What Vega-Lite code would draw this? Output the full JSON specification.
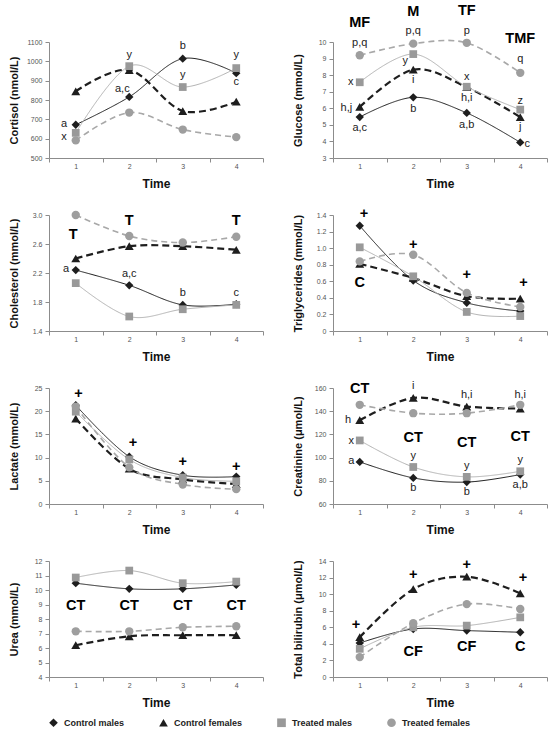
{
"$schema": "https://vega.github.io/schema/vega-lite/v6.json",
"padding": {"left": 7, "top": 3, "right": 4, "bottom": 4},
"background": "white",
"datasets": {
"vals": [
{"p":"Cortisol","g":"Control males","t":1,"v":672},{"p":"Cortisol","g":"Control males","t":2,"v":816},{"p":"Cortisol","g":"Control males","t":3,"v":1014},{"p":"Cortisol","g":"Control males","t":4,"v":939},
{"p":"Cortisol","g":"Control females","t":1,"v":845},{"p":"Cortisol","g":"Control females","t":2,"v":955},{"p":"Cortisol","g":"Control females","t":3,"v":743},{"p":"Cortisol","g":"Control females","t":4,"v":791},
{"p":"Cortisol","g":"Treated males","t":1,"v":630},{"p":"Cortisol","g":"Treated males","t":2,"v":975},{"p":"Cortisol","g":"Treated males","t":3,"v":867},{"p":"Cortisol","g":"Treated males","t":4,"v":965},
{"p":"Cortisol","g":"Treated females","t":1,"v":591},{"p":"Cortisol","g":"Treated females","t":2,"v":735},{"p":"Cortisol","g":"Treated females","t":3,"v":647},{"p":"Cortisol","g":"Treated females","t":4,"v":608},
{"p":"Glucose","g":"Control males","t":1,"v":5.47},{"p":"Glucose","g":"Control males","t":2,"v":6.66},{"p":"Glucose","g":"Control males","t":3,"v":5.72},{"p":"Glucose","g":"Control males","t":4,"v":3.94},
{"p":"Glucose","g":"Control females","t":1,"v":6.08},{"p":"Glucose","g":"Control females","t":2,"v":8.33},{"p":"Glucose","g":"Control females","t":3,"v":7.27},{"p":"Glucose","g":"Control females","t":4,"v":5.47},
{"p":"Glucose","g":"Treated males","t":1,"v":7.57},{"p":"Glucose","g":"Treated males","t":2,"v":9.27},{"p":"Glucose","g":"Treated males","t":3,"v":7.3},{"p":"Glucose","g":"Treated males","t":4,"v":5.92},
{"p":"Glucose","g":"Treated females","t":1,"v":9.2},{"p":"Glucose","g":"Treated females","t":2,"v":9.9},{"p":"Glucose","g":"Treated females","t":3,"v":9.95},{"p":"Glucose","g":"Treated females","t":4,"v":8.14},
{"p":"Cholesterol","g":"Control males","t":1,"v":2.24},{"p":"Cholesterol","g":"Control males","t":2,"v":2.03},{"p":"Cholesterol","g":"Control males","t":3,"v":1.76},{"p":"Cholesterol","g":"Control males","t":4,"v":1.77},
{"p":"Cholesterol","g":"Control females","t":1,"v":2.4},{"p":"Cholesterol","g":"Control females","t":2,"v":2.57},{"p":"Cholesterol","g":"Control females","t":3,"v":2.57},{"p":"Cholesterol","g":"Control females","t":4,"v":2.52},
{"p":"Cholesterol","g":"Treated males","t":1,"v":2.06},{"p":"Cholesterol","g":"Treated males","t":2,"v":1.6},{"p":"Cholesterol","g":"Treated males","t":3,"v":1.7},{"p":"Cholesterol","g":"Treated males","t":4,"v":1.76},
{"p":"Cholesterol","g":"Treated females","t":1,"v":3.0},{"p":"Cholesterol","g":"Treated females","t":2,"v":2.71},{"p":"Cholesterol","g":"Treated females","t":3,"v":2.62},{"p":"Cholesterol","g":"Treated females","t":4,"v":2.7},
{"p":"Triglycerides","g":"Control males","t":1,"v":1.27},{"p":"Triglycerides","g":"Control males","t":2,"v":0.61},{"p":"Triglycerides","g":"Control males","t":3,"v":0.34},{"p":"Triglycerides","g":"Control males","t":4,"v":0.24},
{"p":"Triglycerides","g":"Control females","t":1,"v":0.81},{"p":"Triglycerides","g":"Control females","t":2,"v":0.64},{"p":"Triglycerides","g":"Control females","t":3,"v":0.42},{"p":"Triglycerides","g":"Control females","t":4,"v":0.39},
{"p":"Triglycerides","g":"Treated males","t":1,"v":1.01},{"p":"Triglycerides","g":"Treated males","t":2,"v":0.66},{"p":"Triglycerides","g":"Treated males","t":3,"v":0.23},{"p":"Triglycerides","g":"Treated males","t":4,"v":0.18},
{"p":"Triglycerides","g":"Treated females","t":1,"v":0.84},{"p":"Triglycerides","g":"Treated females","t":2,"v":0.92},{"p":"Triglycerides","g":"Treated females","t":3,"v":0.46},{"p":"Triglycerides","g":"Treated females","t":4,"v":0.29},
{"p":"Lactate","g":"Control males","t":1,"v":21.3},{"p":"Lactate","g":"Control males","t":2,"v":10.2},{"p":"Lactate","g":"Control males","t":3,"v":6.2},{"p":"Lactate","g":"Control males","t":4,"v":5.9},
{"p":"Lactate","g":"Control females","t":1,"v":18.4},{"p":"Lactate","g":"Control females","t":2,"v":7.6},{"p":"Lactate","g":"Control females","t":3,"v":5.3},{"p":"Lactate","g":"Control females","t":4,"v":4.3},
{"p":"Lactate","g":"Treated males","t":1,"v":19.9},{"p":"Lactate","g":"Treated males","t":2,"v":9.6},{"p":"Lactate","g":"Treated males","t":3,"v":5.7},{"p":"Lactate","g":"Treated males","t":4,"v":4.9},
{"p":"Lactate","g":"Treated females","t":1,"v":21.0},{"p":"Lactate","g":"Treated females","t":2,"v":7.9},{"p":"Lactate","g":"Treated females","t":3,"v":4.2},{"p":"Lactate","g":"Treated females","t":4,"v":3.2},
{"p":"Creatinine","g":"Control males","t":1,"v":96.3},{"p":"Creatinine","g":"Control males","t":2,"v":82.5},{"p":"Creatinine","g":"Control males","t":3,"v":78.9},{"p":"Creatinine","g":"Control males","t":4,"v":85.4},
{"p":"Creatinine","g":"Control females","t":1,"v":132.2},{"p":"Creatinine","g":"Control females","t":2,"v":151.5},{"p":"Creatinine","g":"Control females","t":3,"v":144},{"p":"Creatinine","g":"Control females","t":4,"v":142.3},
{"p":"Creatinine","g":"Treated males","t":1,"v":114.8},{"p":"Creatinine","g":"Treated males","t":2,"v":91.9},{"p":"Creatinine","g":"Treated males","t":3,"v":83.4},{"p":"Creatinine","g":"Treated males","t":4,"v":88.2},
{"p":"Creatinine","g":"Treated females","t":1,"v":145.5},{"p":"Creatinine","g":"Treated females","t":2,"v":138.3},{"p":"Creatinine","g":"Treated females","t":3,"v":138.3},{"p":"Creatinine","g":"Treated females","t":4,"v":145.5},
{"p":"Urea","g":"Control males","t":1,"v":10.47},{"p":"Urea","g":"Control males","t":2,"v":10.08},{"p":"Urea","g":"Control males","t":3,"v":10.08},{"p":"Urea","g":"Control males","t":4,"v":10.35},
{"p":"Urea","g":"Control females","t":1,"v":6.19},{"p":"Urea","g":"Control females","t":2,"v":6.81},{"p":"Urea","g":"Control females","t":3,"v":6.88},{"p":"Urea","g":"Control females","t":4,"v":6.88},
{"p":"Urea","g":"Treated males","t":1,"v":10.86},{"p":"Urea","g":"Treated males","t":2,"v":11.34},{"p":"Urea","g":"Treated males","t":3,"v":10.47},{"p":"Urea","g":"Treated males","t":4,"v":10.58},
{"p":"Urea","g":"Treated females","t":1,"v":7.15},{"p":"Urea","g":"Treated females","t":2,"v":7.15},{"p":"Urea","g":"Treated females","t":3,"v":7.43},{"p":"Urea","g":"Treated females","t":4,"v":7.5},
{"p":"Bilirubin","g":"Control males","t":1,"v":4.1},{"p":"Bilirubin","g":"Control males","t":2,"v":5.8},{"p":"Bilirubin","g":"Control males","t":3,"v":5.6},{"p":"Bilirubin","g":"Control males","t":4,"v":5.4},
{"p":"Bilirubin","g":"Control females","t":1,"v":4.8},{"p":"Bilirubin","g":"Control females","t":2,"v":10.6},{"p":"Bilirubin","g":"Control females","t":3,"v":12.1},{"p":"Bilirubin","g":"Control females","t":4,"v":10.1},
{"p":"Bilirubin","g":"Treated males","t":1,"v":3.4},{"p":"Bilirubin","g":"Treated males","t":2,"v":6.0},{"p":"Bilirubin","g":"Treated males","t":3,"v":6.2},{"p":"Bilirubin","g":"Treated males","t":4,"v":7.2},
{"p":"Bilirubin","g":"Treated females","t":1,"v":2.4},{"p":"Bilirubin","g":"Treated females","t":2,"v":6.5},{"p":"Bilirubin","g":"Treated females","t":3,"v":8.8},{"p":"Bilirubin","g":"Treated females","t":4,"v":8.2}
],
"notes": [
{"p":"Cortisol","t":0.78,"v":676,"s":"a"},{"p":"Cortisol","t":0.78,"v":608,"s":"x"},{"p":"Cortisol","t":2,"v":1032,"s":"y"},{"p":"Cortisol","t":1.87,"v":855,"s":"a,c"},{"p":"Cortisol","t":3,"v":1078,"s":"b"},{"p":"Cortisol","t":3,"v":929,"s":"y"},{"p":"Cortisol","t":4,"v":1032,"s":"y"},{"p":"Cortisol","t":4,"v":892,"s":"c"},
{"p":"Glucose","t":1,"v":9.93,"s":"p,q"},{"p":"Glucose","t":0.83,"v":7.57,"s":"x"},{"p":"Glucose","t":0.75,"v":6.04,"s":"h,j"},{"p":"Glucose","t":1,"v":4.82,"s":"a,c"},{"p":"Glucose","t":2,"v":10.68,"s":"p,q"},{"p":"Glucose","t":1.85,"v":8.85,"s":"y"},{"p":"Glucose","t":2,"v":7.7,"s":"i"},{"p":"Glucose","t":2,"v":5.97,"s":"b"},{"p":"Glucose","t":3,"v":10.66,"s":"p"},{"p":"Glucose","t":3,"v":7.88,"s":"x"},{"p":"Glucose","t":3,"v":6.65,"s":"h,i"},{"p":"Glucose","t":3,"v":5.0,"s":"a,b"},{"p":"Glucose","t":4,"v":8.95,"s":"q"},{"p":"Glucose","t":4,"v":6.45,"s":"z"},{"p":"Glucose","t":4,"v":4.87,"s":"j"},{"p":"Glucose","t":4.13,"v":3.82,"s":"c"},
{"p":"Glucose","t":1,"v":11.17,"s":"MF"},{"p":"Glucose","t":2,"v":11.8,"s":"M"},{"p":"Glucose","t":3,"v":11.85,"s":"TF"},{"p":"Glucose","t":4,"v":10.16,"s":"TMF"},
{"p":"Cholesterol","t":0.95,"v":2.73,"s":"T"},{"p":"Cholesterol","t":2,"v":2.92,"s":"T"},{"p":"Cholesterol","t":4,"v":2.92,"s":"T"},{"p":"Cholesterol","t":0.82,"v":2.25,"s":"a"},{"p":"Cholesterol","t":2,"v":2.19,"s":"a,c"},{"p":"Cholesterol","t":3,"v":1.93,"s":"b"},{"p":"Cholesterol","t":4,"v":1.92,"s":"c"},
{"p":"Triglycerides","t":1.08,"v":1.41,"s":"+"},{"p":"Triglycerides","t":2,"v":1.04,"s":"+"},{"p":"Triglycerides","t":3,"v":0.68,"s":"+"},{"p":"Triglycerides","t":4.06,"v":0.58,"s":"+"},{"p":"Triglycerides","t":1,"v":0.58,"s":"C"},
{"p":"Lactate","t":1.05,"v":23.8,"s":"+"},{"p":"Lactate","t":2.07,"v":13.2,"s":"+"},{"p":"Lactate","t":3,"v":9.1,"s":"+"},{"p":"Lactate","t":4,"v":8.0,"s":"+"},
{"p":"Creatinine","t":1,"v":159,"s":"CT"},{"p":"Creatinine","t":2,"v":117,"s":"CT"},{"p":"Creatinine","t":3,"v":112.6,"s":"CT"},{"p":"Creatinine","t":4,"v":118,"s":"CT"},{"p":"Creatinine","t":0.78,"v":132,"s":"h"},{"p":"Creatinine","t":0.84,"v":114,"s":"x"},{"p":"Creatinine","t":0.84,"v":97,"s":"a"},{"p":"Creatinine","t":2,"v":162,"s":"i"},{"p":"Creatinine","t":2,"v":101,"s":"y"},{"p":"Creatinine","t":2,"v":74,"s":"b"},{"p":"Creatinine","t":3,"v":154.3,"s":"h,i"},{"p":"Creatinine","t":3,"v":92.5,"s":"y"},{"p":"Creatinine","t":3,"v":70,"s":"b"},{"p":"Creatinine","t":4,"v":154,"s":"h,i"},{"p":"Creatinine","t":4,"v":97.6,"s":"y"},{"p":"Creatinine","t":4,"v":76,"s":"a,b"},
{"p":"Urea","t":1,"v":8.87,"s":"CT"},{"p":"Urea","t":2,"v":8.87,"s":"CT"},{"p":"Urea","t":3,"v":8.87,"s":"CT"},{"p":"Urea","t":4,"v":8.87,"s":"CT"},
{"p":"Bilirubin","t":0.93,"v":6.3,"s":"+"},{"p":"Bilirubin","t":2,"v":12.3,"s":"+"},{"p":"Bilirubin","t":3,"v":13.5,"s":"+"},{"p":"Bilirubin","t":4.05,"v":11.9,"s":"+"},{"p":"Bilirubin","t":2,"v":3.0,"s":"CF"},{"p":"Bilirubin","t":3,"v":3.6,"s":"CF"},{"p":"Bilirubin","t":4,"v":3.6,"s":"C"}
]
},
"bounds": "flush",
"columns": 2,
"spacing": {"row": 57, "column": 70},
"resolve": {"legend": {"fill": "independent", "shape": "independent"}},
"concat": [
{"width": 214, "height": 116,
 "encoding": {
  "x": {"field":"t","type":"quantitative","title":"Time","scale":{"domain":[0.5,4.5],"nice":false,"zero":false},"axis":{"values":[0.5,1,1.5,2,2.5,3,3.5,4,4.5],"labelExpr":"datum.value % 1 ? '' : '' + datum.value","tickOpacity":{"condition":{"test":"datum.value % 1 == 0","value":0},"value":1}}},
  "y": {"field":"v","type":"quantitative","title":"Cortisol (nmol/L)","scale":{"domain":[500,1100],"nice":false,"zero":false},"axis":{"values":[500,600,700,800,900,1000,1100],"format":"d"}}
 },
 "layer": [
  {"data":{"name":"vals"},"transform":[{"filter":"datum.p=='Cortisol'"}],"mark":{"type":"line","interpolate":"cardinal"},
   "encoding":{"stroke":{"field":"g","type":"nominal","scale":{"domain":["Control males","Control females","Treated males","Treated females"],"range":["#1e1e1e","#1e1e1e","#b3b3b3","#a8a8a8"]},"legend":null},
    "strokeDash":{"field":"g","type":"nominal","scale":{"domain":["Control males","Control females","Treated males","Treated females"],"range":[[1,0],[7,4],[1,0],[6,4]]},"legend":null},
    "strokeWidth":{"condition":[{"test":"datum.g=='Control females'","value":2.2},{"test":"datum.g=='Treated females'","value":1.6}],"value":1}}},
  {"data":{"name":"vals"},"transform":[{"filter":"datum.p=='Cortisol'"}],"mark":{"type":"point","filled":true,"opacity":1},
   "encoding":{"fill":{"field":"g","type":"nominal","scale":{"domain":["Control males","Control females","Treated males","Treated females"],"range":["#1e1e1e","#1e1e1e","#999999","#9e9e9e"]},"legend":null},
    "shape":{"field":"g","type":"nominal","scale":{"domain":["Control males","Control females","Treated males","Treated females"],"range":["diamond","triangle-up","square","circle"]},"legend":null},
    "size":{"condition":[{"test":"datum.g=='Control males'","value":70},{"test":"datum.g=='Control females'","value":80},{"test":"datum.g=='Treated males'","value":60}],"value":70}}},
  {"data":{"name":"notes"},"transform":[{"filter":"datum.p=='Cortisol' && datum.s != upper(datum.s)"}],"mark":{"type":"text","font":"Liberation Sans","fontSize":11,"color":"#222","baseline":"middle"},"encoding":{"text":{"field":"s"}}},
  {"data":{"name":"notes"},"transform":[{"filter":"datum.p=='Cortisol' && datum.s == upper(datum.s)"}],"mark":{"type":"text","font":"Liberation Sans","fontSize":14.5,"fontWeight":"bold","color":"#000","baseline":"middle"},"encoding":{"text":{"field":"s"}}}
 ]},
{"width": 214, "height": 116,
 "encoding": {
  "x": {"field":"t","type":"quantitative","title":"Time","scale":{"domain":[0.5,4.5],"nice":false,"zero":false},"axis":{"values":[0.5,1,1.5,2,2.5,3,3.5,4,4.5],"labelExpr":"datum.value % 1 ? '' : '' + datum.value","tickOpacity":{"condition":{"test":"datum.value % 1 == 0","value":0},"value":1}}},
  "y": {"field":"v","type":"quantitative","title":"Glucose (mmol/L)","scale":{"domain":[3,10],"nice":false,"zero":false},"axis":{"values":[3,4,5,6,7,8,9,10]}}
 },
 "layer": [
  {"data":{"name":"vals"},"transform":[{"filter":"datum.p=='Glucose'"}],"mark":{"type":"line","interpolate":"cardinal"},
   "encoding":{"stroke":{"field":"g","type":"nominal","scale":{"domain":["Control males","Control females","Treated males","Treated females"],"range":["#1e1e1e","#1e1e1e","#b3b3b3","#a8a8a8"]},"legend":null},
    "strokeDash":{"field":"g","type":"nominal","scale":{"domain":["Control males","Control females","Treated males","Treated females"],"range":[[1,0],[7,4],[1,0],[6,4]]},"legend":null},
    "strokeWidth":{"condition":[{"test":"datum.g=='Control females'","value":2.2},{"test":"datum.g=='Treated females'","value":1.6}],"value":1}}},
  {"data":{"name":"vals"},"transform":[{"filter":"datum.p=='Glucose'"}],"mark":{"type":"point","filled":true,"opacity":1},
   "encoding":{"fill":{"field":"g","type":"nominal","scale":{"domain":["Control males","Control females","Treated males","Treated females"],"range":["#1e1e1e","#1e1e1e","#999999","#9e9e9e"]},"legend":null},
    "shape":{"field":"g","type":"nominal","scale":{"domain":["Control males","Control females","Treated males","Treated females"],"range":["diamond","triangle-up","square","circle"]},"legend":null},
    "size":{"condition":[{"test":"datum.g=='Control males'","value":70},{"test":"datum.g=='Control females'","value":80},{"test":"datum.g=='Treated males'","value":60}],"value":70}}},
  {"data":{"name":"notes"},"transform":[{"filter":"datum.p=='Glucose' && datum.s != upper(datum.s)"}],"mark":{"type":"text","font":"Liberation Sans","fontSize":11,"color":"#222","baseline":"middle"},"encoding":{"text":{"field":"s"}}},
  {"data":{"name":"notes"},"transform":[{"filter":"datum.p=='Glucose' && datum.s == upper(datum.s)"}],"mark":{"type":"text","font":"Liberation Sans","fontSize":14.5,"fontWeight":"bold","color":"#000","baseline":"middle"},"encoding":{"text":{"field":"s"}}}
 ]},
{"width": 214, "height": 116,
 "encoding": {
  "x": {"field":"t","type":"quantitative","title":"Time","scale":{"domain":[0.5,4.5],"nice":false,"zero":false},"axis":{"values":[0.5,1,1.5,2,2.5,3,3.5,4,4.5],"labelExpr":"datum.value % 1 ? '' : '' + datum.value","tickOpacity":{"condition":{"test":"datum.value % 1 == 0","value":0},"value":1}}},
  "y": {"field":"v","type":"quantitative","title":"Cholesterol (mmol/L)","scale":{"domain":[1.4,3.0],"nice":false,"zero":false},"axis":{"values":[1.4,1.8,2.2,2.6,3.0],"format":".1f"}}
 },
 "layer": [
  {"data":{"name":"vals"},"transform":[{"filter":"datum.p=='Cholesterol'"}],"mark":{"type":"line","interpolate":"cardinal"},
   "encoding":{"stroke":{"field":"g","type":"nominal","scale":{"domain":["Control males","Control females","Treated males","Treated females"],"range":["#1e1e1e","#1e1e1e","#b3b3b3","#a8a8a8"]},"legend":null},
    "strokeDash":{"field":"g","type":"nominal","scale":{"domain":["Control males","Control females","Treated males","Treated females"],"range":[[1,0],[7,4],[1,0],[6,4]]},"legend":null},
    "strokeWidth":{"condition":[{"test":"datum.g=='Control females'","value":2.2},{"test":"datum.g=='Treated females'","value":1.6}],"value":1}}},
  {"data":{"name":"vals"},"transform":[{"filter":"datum.p=='Cholesterol'"}],"mark":{"type":"point","filled":true,"opacity":1},
   "encoding":{"fill":{"field":"g","type":"nominal","scale":{"domain":["Control males","Control females","Treated males","Treated females"],"range":["#1e1e1e","#1e1e1e","#999999","#9e9e9e"]},"legend":null},
    "shape":{"field":"g","type":"nominal","scale":{"domain":["Control males","Control females","Treated males","Treated females"],"range":["diamond","triangle-up","square","circle"]},"legend":null},
    "size":{"condition":[{"test":"datum.g=='Control males'","value":70},{"test":"datum.g=='Control females'","value":80},{"test":"datum.g=='Treated males'","value":60}],"value":70}}},
  {"data":{"name":"notes"},"transform":[{"filter":"datum.p=='Cholesterol' && datum.s != upper(datum.s)"}],"mark":{"type":"text","font":"Liberation Sans","fontSize":11,"color":"#222","baseline":"middle"},"encoding":{"text":{"field":"s"}}},
  {"data":{"name":"notes"},"transform":[{"filter":"datum.p=='Cholesterol' && datum.s == upper(datum.s)"}],"mark":{"type":"text","font":"Liberation Sans","fontSize":14.5,"fontWeight":"bold","color":"#000","baseline":"middle"},"encoding":{"text":{"field":"s"}}}
 ]},
{"width": 214, "height": 116,
 "encoding": {
  "x": {"field":"t","type":"quantitative","title":"Time","scale":{"domain":[0.5,4.5],"nice":false,"zero":false},"axis":{"values":[0.5,1,1.5,2,2.5,3,3.5,4,4.5],"labelExpr":"datum.value % 1 ? '' : '' + datum.value","tickOpacity":{"condition":{"test":"datum.value % 1 == 0","value":0},"value":1}}},
  "y": {"field":"v","type":"quantitative","title":"Triglycerides (mmol/L)","scale":{"domain":[0,1.4],"nice":false,"zero":false},"axis":{"values":[0,0.2,0.4,0.6,0.8,1.0,1.2,1.4],"labelExpr":"datum.value == 0 ? '0' : format(datum.value, '.1f')"}}
 },
 "layer": [
  {"data":{"name":"vals"},"transform":[{"filter":"datum.p=='Triglycerides'"}],"mark":{"type":"line","interpolate":"cardinal"},
   "encoding":{"stroke":{"field":"g","type":"nominal","scale":{"domain":["Control males","Control females","Treated males","Treated females"],"range":["#1e1e1e","#1e1e1e","#b3b3b3","#a8a8a8"]},"legend":null},
    "strokeDash":{"field":"g","type":"nominal","scale":{"domain":["Control males","Control females","Treated males","Treated females"],"range":[[1,0],[7,4],[1,0],[6,4]]},"legend":null},
    "strokeWidth":{"condition":[{"test":"datum.g=='Control females'","value":2.2},{"test":"datum.g=='Treated females'","value":1.6}],"value":1}}},
  {"data":{"name":"vals"},"transform":[{"filter":"datum.p=='Triglycerides'"}],"mark":{"type":"point","filled":true,"opacity":1},
   "encoding":{"fill":{"field":"g","type":"nominal","scale":{"domain":["Control males","Control females","Treated males","Treated females"],"range":["#1e1e1e","#1e1e1e","#999999","#9e9e9e"]},"legend":null},
    "shape":{"field":"g","type":"nominal","scale":{"domain":["Control males","Control females","Treated males","Treated females"],"range":["diamond","triangle-up","square","circle"]},"legend":null},
    "size":{"condition":[{"test":"datum.g=='Control males'","value":70},{"test":"datum.g=='Control females'","value":80},{"test":"datum.g=='Treated males'","value":60}],"value":70}}},
  {"data":{"name":"notes"},"transform":[{"filter":"datum.p=='Triglycerides' && datum.s == upper(datum.s)"}],"mark":{"type":"text","font":"Liberation Sans","fontSize":14.5,"fontWeight":"bold","color":"#000","baseline":"middle"},"encoding":{"text":{"field":"s"}}}
 ]},
{"width": 214, "height": 116,
 "encoding": {
  "x": {"field":"t","type":"quantitative","title":"Time","scale":{"domain":[0.5,4.5],"nice":false,"zero":false},"axis":{"values":[0.5,1,1.5,2,2.5,3,3.5,4,4.5],"labelExpr":"datum.value % 1 ? '' : '' + datum.value","tickOpacity":{"condition":{"test":"datum.value % 1 == 0","value":0},"value":1}}},
  "y": {"field":"v","type":"quantitative","title":"Lactate (mmol/L)","scale":{"domain":[0,25],"nice":false,"zero":false},"axis":{"values":[0,5,10,15,20,25]}}
 },
 "layer": [
  {"data":{"name":"vals"},"transform":[{"filter":"datum.p=='Lactate'"}],"mark":{"type":"line","interpolate":"cardinal"},
   "encoding":{"stroke":{"field":"g","type":"nominal","scale":{"domain":["Control males","Control females","Treated males","Treated females"],"range":["#1e1e1e","#1e1e1e","#b3b3b3","#a8a8a8"]},"legend":null},
    "strokeDash":{"field":"g","type":"nominal","scale":{"domain":["Control males","Control females","Treated males","Treated females"],"range":[[1,0],[7,4],[1,0],[6,4]]},"legend":null},
    "strokeWidth":{"condition":[{"test":"datum.g=='Control females'","value":2.2},{"test":"datum.g=='Treated females'","value":1.6}],"value":1}}},
  {"data":{"name":"vals"},"transform":[{"filter":"datum.p=='Lactate'"}],"mark":{"type":"point","filled":true,"opacity":1},
   "encoding":{"fill":{"field":"g","type":"nominal","scale":{"domain":["Control males","Control females","Treated males","Treated females"],"range":["#1e1e1e","#1e1e1e","#999999","#9e9e9e"]},"legend":null},
    "shape":{"field":"g","type":"nominal","scale":{"domain":["Control males","Control females","Treated males","Treated females"],"range":["diamond","triangle-up","square","circle"]},"legend":null},
    "size":{"condition":[{"test":"datum.g=='Control males'","value":70},{"test":"datum.g=='Control females'","value":80},{"test":"datum.g=='Treated males'","value":60}],"value":70}}},
  {"data":{"name":"notes"},"transform":[{"filter":"datum.p=='Lactate' && datum.s == upper(datum.s)"}],"mark":{"type":"text","font":"Liberation Sans","fontSize":14.5,"fontWeight":"bold","color":"#000","baseline":"middle"},"encoding":{"text":{"field":"s"}}}
 ]},
{"width": 214, "height": 116,
 "encoding": {
  "x": {"field":"t","type":"quantitative","title":"Time","scale":{"domain":[0.5,4.5],"nice":false,"zero":false},"axis":{"values":[0.5,1,1.5,2,2.5,3,3.5,4,4.5],"labelExpr":"datum.value % 1 ? '' : '' + datum.value","tickOpacity":{"condition":{"test":"datum.value % 1 == 0","value":0},"value":1}}},
  "y": {"field":"v","type":"quantitative","title":"Creatinine (μmol/L)","scale":{"domain":[60,160],"nice":false,"zero":false},"axis":{"values":[60,80,100,120,140,160]}}
 },
 "layer": [
  {"data":{"name":"vals"},"transform":[{"filter":"datum.p=='Creatinine'"}],"mark":{"type":"line","interpolate":"cardinal"},
   "encoding":{"stroke":{"field":"g","type":"nominal","scale":{"domain":["Control males","Control females","Treated males","Treated females"],"range":["#1e1e1e","#1e1e1e","#b3b3b3","#a8a8a8"]},"legend":null},
    "strokeDash":{"field":"g","type":"nominal","scale":{"domain":["Control males","Control females","Treated males","Treated females"],"range":[[1,0],[7,4],[1,0],[6,4]]},"legend":null},
    "strokeWidth":{"condition":[{"test":"datum.g=='Control females'","value":2.2},{"test":"datum.g=='Treated females'","value":1.6}],"value":1}}},
  {"data":{"name":"vals"},"transform":[{"filter":"datum.p=='Creatinine'"}],"mark":{"type":"point","filled":true,"opacity":1},
   "encoding":{"fill":{"field":"g","type":"nominal","scale":{"domain":["Control males","Control females","Treated males","Treated females"],"range":["#1e1e1e","#1e1e1e","#999999","#9e9e9e"]},"legend":null},
    "shape":{"field":"g","type":"nominal","scale":{"domain":["Control males","Control females","Treated males","Treated females"],"range":["diamond","triangle-up","square","circle"]},"legend":null},
    "size":{"condition":[{"test":"datum.g=='Control males'","value":70},{"test":"datum.g=='Control females'","value":80},{"test":"datum.g=='Treated males'","value":60}],"value":70}}},
  {"data":{"name":"notes"},"transform":[{"filter":"datum.p=='Creatinine' && datum.s != upper(datum.s)"}],"mark":{"type":"text","font":"Liberation Sans","fontSize":11,"color":"#222","baseline":"middle"},"encoding":{"text":{"field":"s"}}},
  {"data":{"name":"notes"},"transform":[{"filter":"datum.p=='Creatinine' && datum.s == upper(datum.s)"}],"mark":{"type":"text","font":"Liberation Sans","fontSize":14.5,"fontWeight":"bold","color":"#000","baseline":"middle"},"encoding":{"text":{"field":"s"}}}
 ]},
{"width": 214, "height": 116,
 "encoding": {
  "x": {"field":"t","type":"quantitative","title":"Time","scale":{"domain":[0.5,4.5],"nice":false,"zero":false},"axis":{"values":[0.5,1,1.5,2,2.5,3,3.5,4,4.5],"labelExpr":"datum.value % 1 ? '' : '' + datum.value","tickOpacity":{"condition":{"test":"datum.value % 1 == 0","value":0},"value":1}}},
  "y": {"field":"v","type":"quantitative","title":"Urea (mmol/L)","scale":{"domain":[4,12],"nice":false,"zero":false},"axis":{"values":[4,5,6,7,8,9,10,11,12]}}
 },
 "layer": [
  {"data":{"name":"vals"},"transform":[{"filter":"datum.p=='Urea'"}],"mark":{"type":"line","interpolate":"cardinal"},
   "encoding":{"stroke":{"field":"g","type":"nominal","scale":{"domain":["Control males","Control females","Treated males","Treated females"],"range":["#1e1e1e","#1e1e1e","#b3b3b3","#a8a8a8"]},"legend":null},
    "strokeDash":{"field":"g","type":"nominal","scale":{"domain":["Control males","Control females","Treated males","Treated females"],"range":[[1,0],[7,4],[1,0],[6,4]]},"legend":null},
    "strokeWidth":{"condition":[{"test":"datum.g=='Control females'","value":2.2},{"test":"datum.g=='Treated females'","value":1.6}],"value":1}}},
  {"data":{"name":"vals"},"transform":[{"filter":"datum.p=='Urea'"}],"mark":{"type":"point","filled":true,"opacity":1},
   "encoding":{"fill":{"field":"g","type":"nominal","scale":{"domain":["Control males","Control females","Treated males","Treated females"],"range":["#1e1e1e","#1e1e1e","#999999","#9e9e9e"]},
     "legend":{"title":null,"orient":"bottom","offset":10,"direction":"horizontal","columns":4,"symbolSize":75,"symbolStrokeWidth":0,"labelFont":"Liberation Sans","labelFontSize":9,"labelFontWeight":"bold","labelColor":"#222","columnPadding":34,"labelOffset":6,"padding":0}},
    "shape":{"field":"g","type":"nominal","scale":{"domain":["Control males","Control females","Treated males","Treated females"],"range":["diamond","triangle-up","square","circle"]},
     "legend":{"title":null,"orient":"bottom","offset":10,"direction":"horizontal","columns":4,"symbolSize":75,"symbolStrokeWidth":0,"labelFont":"Liberation Sans","labelFontSize":9,"labelFontWeight":"bold","labelColor":"#222","columnPadding":34,"labelOffset":6,"padding":0}},
    "size":{"condition":[{"test":"datum.g=='Control males'","value":70},{"test":"datum.g=='Control females'","value":80},{"test":"datum.g=='Treated males'","value":60}],"value":70}}},
  {"data":{"name":"notes"},"transform":[{"filter":"datum.p=='Urea' && datum.s == upper(datum.s)"}],"mark":{"type":"text","font":"Liberation Sans","fontSize":14.5,"fontWeight":"bold","color":"#000","baseline":"middle"},"encoding":{"text":{"field":"s"}}}
 ]},
{"width": 214, "height": 116,
 "encoding": {
  "x": {"field":"t","type":"quantitative","title":"Time","scale":{"domain":[0.5,4.5],"nice":false,"zero":false},"axis":{"values":[0.5,1,1.5,2,2.5,3,3.5,4,4.5],"labelExpr":"datum.value % 1 ? '' : '' + datum.value","tickOpacity":{"condition":{"test":"datum.value % 1 == 0","value":0},"value":1}}},
  "y": {"field":"v","type":"quantitative","title":"Total bilirubin (μmol/L)","scale":{"domain":[0,14],"nice":false,"zero":false},"axis":{"values":[0,2,4,6,8,10,12,14]}}
 },
 "layer": [
  {"data":{"name":"vals"},"transform":[{"filter":"datum.p=='Bilirubin'"}],"mark":{"type":"line","interpolate":"cardinal"},
   "encoding":{"stroke":{"field":"g","type":"nominal","scale":{"domain":["Control males","Control females","Treated males","Treated females"],"range":["#1e1e1e","#1e1e1e","#b3b3b3","#a8a8a8"]},"legend":null},
    "strokeDash":{"field":"g","type":"nominal","scale":{"domain":["Control males","Control females","Treated males","Treated females"],"range":[[1,0],[7,4],[1,0],[6,4]]},"legend":null},
    "strokeWidth":{"condition":[{"test":"datum.g=='Control females'","value":2.2},{"test":"datum.g=='Treated females'","value":1.6}],"value":1}}},
  {"data":{"name":"vals"},"transform":[{"filter":"datum.p=='Bilirubin'"}],"mark":{"type":"point","filled":true,"opacity":1},
   "encoding":{"fill":{"field":"g","type":"nominal","scale":{"domain":["Control males","Control females","Treated males","Treated females"],"range":["#1e1e1e","#1e1e1e","#999999","#9e9e9e"]},"legend":null},
    "shape":{"field":"g","type":"nominal","scale":{"domain":["Control males","Control females","Treated males","Treated females"],"range":["diamond","triangle-up","square","circle"]},"legend":null},
    "size":{"condition":[{"test":"datum.g=='Control males'","value":70},{"test":"datum.g=='Control females'","value":80},{"test":"datum.g=='Treated males'","value":60}],"value":70}}},
  {"data":{"name":"notes"},"transform":[{"filter":"datum.p=='Bilirubin' && datum.s == upper(datum.s)"}],"mark":{"type":"text","font":"Liberation Sans","fontSize":14.5,"fontWeight":"bold","color":"#000","baseline":"middle"},"encoding":{"text":{"field":"s"}}}
 ]}
],
"config": {
 "view": {"stroke": null},
 "font": "Liberation Sans",
 "axis": {"grid": false, "domainColor": "#8c8c8c", "tickColor": "#8c8c8c", "tickSize": 4, "labelFont": "Liberation Sans", "labelFontSize": 7, "labelColor": "#555", "titleFont": "Liberation Sans", "titleFontSize": 11, "titleFontWeight": "bold", "titleColor": "#111", "labelOverlap": false, "labelFlush": false},
 "axisX": {"labelPadding": 0, "titlePadding": 9, "titleFontSize": 12, "labelAngle": 0},
 "axisY": {"labelPadding": 3, "titleX": -35, "titleY": 58, "titleBaseline": "middle", "titleAngle": -90}
}
}
